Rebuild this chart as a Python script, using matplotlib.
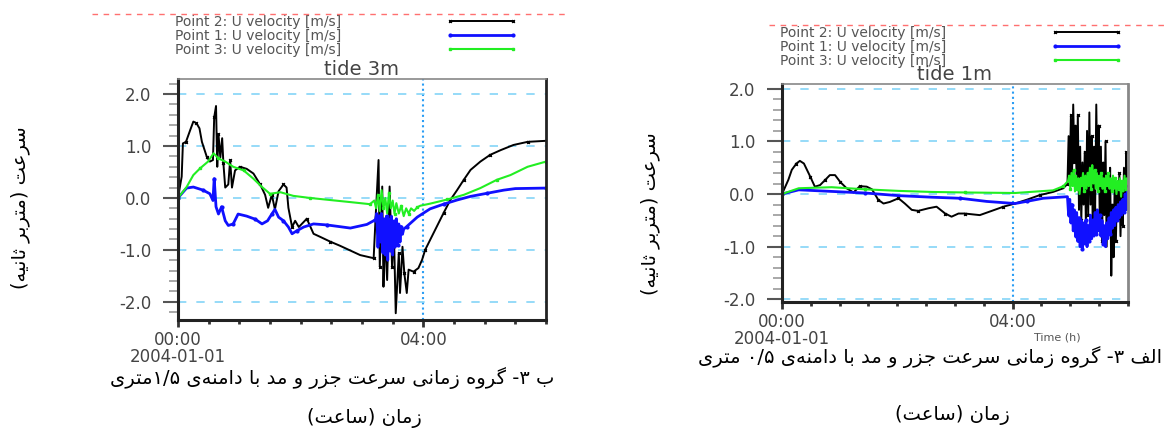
import re
import matplotlib
matplotlib.use('Agg')
import matplotlib.pyplot as plt
from matplotlib.lines import Line2D
from matplotlib.ticker import MultipleLocator, FixedLocator, FormatStrFormatter

plt.rcParams['axes.unicode_minus'] = False

# ------------ Data: tide 3m (left panel) ---------------
T3_P2 = [0, 0.06, 0.08, 0.13, 0.2, 0.25, 0.3, 0.35, 0.39, 0.47,
         0.52, 0.57, 0.59, 0.62, 0.64, 0.66, 0.69, 0.72, 0.74, 0.77,
         0.82, 0.85, 0.88, 0.93, 1.01, 1.12, 1.23, 1.34, 1.42, 1.47,
         1.53, 1.58, 1.64, 1.72, 1.77, 1.80, 1.86, 1.91, 1.97, 2.10,
         2.21, 2.32, 2.48, 2.64, 2.97, 3.19, 3.22, 3.27, 3.29, 3.33,
         3.35, 3.37, 3.41, 3.45, 3.49, 3.52, 3.55, 3.60, 3.62, 3.66,
         3.69, 3.73, 3.76, 3.84, 3.92, 3.98, 4.03, 4.11, 4.22, 4.33,
         4.44, 4.55, 4.66, 4.77, 4.93, 5.09, 5.26, 5.47, 5.7, 6.0]
U3_P2 = [0, 0.41, 1.05, 1.08, 1.31, 1.47, 1.44, 1.34, 1.08, 0.79,
         0.70, 0.73, 1.55, 1.77, 0.6, 1.23, 0.78, 1.15, 0.67, 0.2,
         0.26, 0.73, 0.2, 0.53, 0.6, 0.56, 0.47, 0.26, 0.06, -0.19,
         0.06, -0.22, 0.13, 0.26, 0.2, -0.19, -0.56, -0.44, -0.56, -0.4,
         -0.69, -0.75, -0.84, -0.92, -1.10, -1.16, -0.42, 0.73, -1.32, 0.22,
         -1.71, -0.74, -1.58, 0.22, -1.32, -0.63, -2.22, -1.06, -1.83, -0.94,
         -1.45, -1.83, -1.38, -1.42, -1.35, -1.19, -1.0, -0.81, -0.55, -0.29,
         -0.04, 0.15, 0.35, 0.54, 0.70, 0.83, 0.92, 1.02, 1.08, 1.10]

T3_P1 = [0, 0.14, 0.25, 0.41, 0.52, 0.57, 0.59, 0.62, 0.66, 0.71,
         0.77, 0.82, 0.90, 0.98, 1.12, 1.26, 1.37, 1.46, 1.53, 1.58,
         1.64, 1.72, 1.80, 1.86, 1.94, 2.05, 2.21, 2.43, 2.81, 3.08,
         3.22, 3.24, 3.26, 3.28, 3.30, 3.32, 3.34, 3.36, 3.38, 3.40,
         3.42, 3.44, 3.46, 3.48, 3.50, 3.52, 3.54, 3.56, 3.58, 3.60,
         3.62, 3.64, 3.66, 3.68, 3.73, 3.90, 4.11, 4.33, 4.55, 4.77,
         5.04, 5.31, 5.5, 6.0]
U3_P1 = [0, 0.19, 0.21, 0.15, 0.08, -0.05, 0.37, -0.17, -0.31, -0.17,
         -0.44, -0.53, -0.5, -0.31, -0.35, -0.41, -0.5, -0.44, -0.31, -0.22,
         -0.37, -0.44, -0.56, -0.69, -0.63, -0.56, -0.5, -0.52, -0.58, -0.51,
         -0.42, -0.3, -0.95, -0.35, -0.85, -0.3, -1.05, -0.4, -1.1, -0.35,
         -1.2, -0.4, -1.0, -0.35, -1.1, -0.45, -0.95, -0.4, -0.9, -0.5,
         -0.85, -0.55, -0.7, -0.6, -0.55, -0.37, -0.21, -0.12, -0.04, 0.03,
         0.09, 0.15, 0.18, 0.19]

T3_P3 = [0, 0.14, 0.25, 0.36, 0.49, 0.58, 0.66, 0.77, 0.90, 1.07,
         1.23, 1.37, 1.5, 1.67, 1.88, 2.15, 2.48, 2.81, 3.13, 3.2,
         3.23, 3.26, 3.29, 3.32, 3.35, 3.38, 3.41, 3.44, 3.47, 3.50,
         3.53, 3.56, 3.60, 3.64, 3.68, 3.72, 3.76, 3.80, 3.85, 3.9,
         3.95, 4.11, 4.39, 4.66, 4.93, 5.2, 5.42, 5.7, 6.0]
U3_P3 = [0, 0.21, 0.44, 0.57, 0.70, 0.86, 0.76, 0.70, 0.60, 0.53,
         0.37, 0.21, 0.08, 0.11, 0.04, 0.0, -0.04, -0.08, -0.12, -0.05,
         -0.2, 0.05, -0.25, 0.15, -0.2, 0.0, -0.3, 0.1, -0.2, -0.05,
         -0.3, -0.1, -0.3, -0.15, -0.35, -0.2, -0.3, -0.2, -0.25, -0.18,
         -0.15, -0.11, -0.03, 0.06, 0.19, 0.35, 0.44, 0.6, 0.7]

# ------------ Data: tide 1m (right panel) ---------------
T1_P2 = [0, 0.11, 0.17, 0.25, 0.31, 0.38, 0.49, 0.57, 0.66, 0.75,
         0.83, 0.92, 1.01, 1.12, 1.24, 1.35, 1.47, 1.56, 1.67, 1.76,
         1.87, 2.02, 2.13, 2.25, 2.36, 2.54, 2.68, 2.83, 2.94, 3.06,
         3.17, 3.43, 3.61, 3.84, 4.04, 4.24, 4.47, 4.70, 4.88,
         4.95, 4.97, 4.99, 5.01, 5.03, 5.05, 5.07, 5.09, 5.11, 5.13,
         5.15, 5.17, 5.19, 5.21, 5.23, 5.25, 5.27, 5.29, 5.31, 5.33,
         5.35, 5.37, 5.39, 5.41, 5.43, 5.45, 5.47, 5.49, 5.51, 5.53,
         5.55, 5.57, 5.59, 5.61, 5.63, 5.65, 5.67, 5.69, 5.71, 5.73,
         5.75, 5.77, 5.79, 5.81, 5.83, 5.85, 5.87, 5.89, 5.91, 5.93,
         5.95, 5.97, 5.99]
U1_P2 = [0, 0.27, 0.46, 0.58, 0.63, 0.58, 0.33, 0.14, 0.17, 0.27,
         0.36, 0.36, 0.23, 0.11, 0.03, 0.15, 0.14, 0.09, -0.11, -0.18,
         -0.15, -0.08, -0.18, -0.30, -0.32, -0.27, -0.24, -0.37, -0.43, -0.37,
         -0.37, -0.40, -0.33, -0.24, -0.18, -0.11, -0.02, 0.04, 0.11,
         0.2, 1.1, 0.3, 1.5, 0.4, 1.7, 0.6, 1.3, 0.2, 1.5,
         -0.3, 0.9, -0.5, 0.6, -0.2, 0.8, -0.6, 1.2, -0.4, 1.55,
         -0.2, 1.1, -0.8, 0.9, -0.3, 1.7, 0.2, 1.3, -0.5, 0.9,
         -0.9, 0.6, -0.4, 1.0, -1.0, 0.4, -0.7, 0.5, -1.55, -0.2,
         -1.2, 0.3, -0.9, 0.2, -0.5, 0.4, -0.8, 0.1, -0.6, 0.5,
         -0.3, 0.8, 0.1]

T1_P1 = [0, 0.29, 0.86, 1.44, 2.02, 2.6, 3.09, 3.55, 4.04, 4.24, 4.53,
         4.95, 4.97, 4.99, 5.01, 5.03, 5.05, 5.07, 5.09, 5.11, 5.13,
         5.15, 5.17, 5.19, 5.21, 5.23, 5.25, 5.27, 5.29, 5.31, 5.33,
         5.35, 5.37, 5.39, 5.41, 5.43, 5.45, 5.47, 5.49, 5.51, 5.53,
         5.55, 5.57, 5.59, 5.61, 5.63, 5.65, 5.67, 5.69, 5.71, 5.73,
         5.75, 5.77, 5.79, 5.81, 5.83, 5.85, 5.87, 5.89, 5.91, 5.93,
         5.95, 5.97, 5.99]
U1_P1 = [0, 0.08, 0.05, 0.02, -0.03, -0.06, -0.08, -0.14, -0.18, -0.14, -0.08,
         -0.05, -0.4, -0.1, -0.55, -0.2, -0.7, -0.3, -0.8, -0.35, -0.9,
         -0.45, -1.0, -0.5, -1.05, -0.55, -0.95, -0.5, -1.0, -0.6, -0.9,
         -0.4, -0.85, -0.5, -0.8, -0.35, -0.75, -0.3, -0.7, -0.4, -0.8,
         -0.5, -0.95, -0.6, -1.0, -0.55, -0.85, -0.45, -0.75, -0.35, -0.65,
         -0.3, -0.6, -0.25, -0.5, -0.2, -0.45, -0.15, -0.4, -0.1, -0.35,
         0.0, -0.3, 0.1]

T1_P3 = [0, 0.29, 0.86, 1.44, 2.02, 2.6, 3.17, 4.04, 4.7, 4.88, 4.96,
         4.98, 5.00, 5.02, 5.04, 5.06, 5.08, 5.10, 5.12, 5.14, 5.16,
         5.18, 5.20, 5.22, 5.24, 5.26, 5.28, 5.30, 5.32, 5.34, 5.36,
         5.38, 5.40, 5.42, 5.44, 5.46, 5.48, 5.50, 5.52, 5.54, 5.56,
         5.58, 5.60, 5.62, 5.64, 5.66, 5.68, 5.70, 5.72, 5.74, 5.76,
         5.78, 5.80, 5.82, 5.84, 5.86, 5.88, 5.90, 5.92, 5.94, 5.96,
         5.98, 6.0]
U1_P3 = [0, 0.11, 0.13, 0.09, 0.06, 0.04, 0.03, 0.02, 0.07, 0.15, 0.25,
         0.35, 0.1, 0.4, 0.15, 0.45, 0.05, 0.35, 0.1, 0.3, 0.0,
         0.3, 0.15, 0.4, 0.05, 0.35, 0.1, 0.4, 0.15, 0.5, 0.1,
         0.55, 0.2, 0.45, 0.1, 0.4, 0.05, 0.35, 0.15, 0.4, 0.1,
         0.3, 0.05, 0.35, 0.15, 0.4, 0.1, 0.3, 0.05, 0.35, 0.1,
         0.3, 0.0, 0.25, 0.1, 0.3, -0.05, 0.25, 0.05, 0.35, 0.1,
         0.3, 0.2]

SERIES_LABELS = ['Point 2: U velocity [m/s]', 'Point 1: U velocity [m/s]',
                 'Point 3: U velocity [m/s]']
XTICK_LABELS = ['00:00\n2004-01-01', '04:00']

# Persian texts (logical order)
YLABEL_FA = 'سرعت (متربر ثانیه)'
XLABEL_FA = 'زمان (ساعت)'
CAPTION_3M = 'ب ۳- گروه زمانی سرعت جزر و مد با دامنه\u200cی ۱/۵متری'
CAPTION_1M = 'الف ۳- گروه زمانی سرعت جزر و مد با دامنه\u200cی ۰/۵ متری'

# ------------ Persian shaping (matplotlib has no text layout engine) -------
# isolated, final, initial, medial
FORMS = {
    'ا': ('\ufe8d', '\ufe8e', None, None),
    'ب': ('\ufe8f', '\ufe90', '\ufe91', '\ufe92'),
    'ت': ('\ufe95', '\ufe96', '\ufe97', '\ufe98'),
    'ث': ('\ufe99', '\ufe9a', '\ufe9b', '\ufe9c'),
    'ج': ('\ufe9d', '\ufe9e', '\ufe9f', '\ufea0'),
    'د': ('\ufea9', '\ufeaa', None, None),
    'ر': ('\ufead', '\ufeae', None, None),
    'ز': ('\ufeaf', '\ufeb0', None, None),
    'س': ('\ufeb1', '\ufeb2', '\ufeb3', '\ufeb4'),
    'ع': ('\ufec9', '\ufeca', '\ufecb', '\ufecc'),
    'ف': ('\ufed1', '\ufed2', '\ufed3', '\ufed4'),
    'ل': ('\ufedd', '\ufede', '\ufedf', '\ufee0'),
    'م': ('\ufee1', '\ufee2', '\ufee3', '\ufee4'),
    'ن': ('\ufee5', '\ufee6', '\ufee7', '\ufee8'),
    'ه': ('\ufee9', '\ufeea', '\ufeeb', '\ufeec'),
    'و': ('\ufeed', '\ufeee', None, None),
    'ی': ('\ufbfc', '\ufbfd', '\ufbfe', '\ufbff'),
    'گ': ('\ufb92', '\ufb93', '\ufb94', '\ufb95'),
}


def fa(s):
    out = []
    for i, c in enumerate(s):
        if c not in FORMS:
            out.append(c)
            continue
        prev = s[i - 1] if i > 0 else ''
        nxt = s[i + 1] if i + 1 < len(s) else ''
        jp = prev in FORMS and FORMS[prev][2] is not None
        jn = FORMS[c][2] is not None and nxt in FORMS
        iso, fin, ini, med = FORMS[c]
        out.append(med if (jp and jn) else fin if jp else ini if jn else iso)
    vis = ''.join(out).replace('\u200c', '')[::-1]
    vis = re.sub(r'[0-9۰-۹][0-9۰-۹/.]*', lambda m: m.group()[::-1], vis)
    return vis.translate(str.maketrans('()', ')('))


# ------------ Figure ---------------
W, H = 1164, 432
fig = plt.figure(figsize=(W / 100, H / 100), dpi=100)


def box(l, t, r, b):
    return [l / W, 1 - b / H, (r - l) / W, (b - t) / H]


def setup(ax, ylim, title):
    ax.set_xlim(0, 6)
    ax.set_ylim(*ylim)
    ax.yaxis.set_major_locator(FixedLocator([-2, -1, 0, 1, 2]))
    ax.yaxis.set_minor_locator(MultipleLocator(0.2))
    ax.yaxis.set_major_formatter(FormatStrFormatter('%.1f'))
    ax.xaxis.set_major_locator(FixedLocator([0, 4]))
    ax.xaxis.set_minor_locator(MultipleLocator(0.5))
    ax.set_xticklabels(XTICK_LABELS, linespacing=0.9)
    ax.grid(axis='y', color='#84d4f7', linestyle=(0, (5, 6)), lw=1.2)
    ax.axvline(4, color='#2a9df4', linestyle=(0, (1, 1.5)), lw=1.5, zorder=1)
    for side in ('left', 'bottom'):
        ax.spines[side].set_linewidth(2.2)
        ax.spines[side].set_color('#222222')
    ax.spines['top'].set_linewidth(1.2)
    ax.spines['top'].set_color('#888888')
    ax.spines['right'].set_linewidth(2.0)
    ax.tick_params(axis='y', which='major', direction='out', length=11, width=1.5,
                   color='#555555', pad=8, labelsize=12, labelcolor='#444444')
    ax.tick_params(axis='y', which='minor', direction='out', length=6.5, width=1.2,
                   color='#999999')
    ax.tick_params(axis='x', which='major', direction='out', length=5, width=2,
                   color='#333333', pad=3, labelsize=12, labelcolor='#444444')
    ax.tick_params(axis='x', which='minor', direction='out', length=3, width=2,
                   color='#333333')
    ax.set_title(title, fontsize=14, color='#444444', pad=1)


def draw(ax, t2, u2, t1, u1, t3, u3):
    h2, = ax.plot(t2, u2, color='black', lw=1.4, marker='x', ms=2, markevery=3)
    h1, = ax.plot(t1, u1, color='#1010ff', lw=2.0, marker='o', ms=2, markevery=3)
    h3, = ax.plot(t3, u3, color='#22ee22', lw=1.5, marker='s', ms=1.8, markevery=3)
    return [h2, h1, h3]


def legend(ax, handles, x, y):
    leg = ax.legend(handles, SERIES_LABELS, loc='upper left',
                    bbox_to_anchor=(x / W, 1 - y / H), bbox_transform=fig.transFigure,
                    frameon=False, markerfirst=False, numpoints=2, fontsize=10,
                    handlelength=5.2, handletextpad=7.5, labelspacing=0.0,
                    borderpad=0, borderaxespad=0)
    plt.setp(leg.get_texts(), color='#555555')


# left panel: tide 3m
ax3 = fig.add_axes(box(178, 79, 546, 320))
setup(ax3, (-2.35, 2.29), 'tide 3m')
ax3.spines['right'].set_color('#222222')
hs = draw(ax3, T3_P2, U3_P2, T3_P1, U3_P1, T3_P3, U3_P3)
legend(ax3, hs, 175, 15)

# right panel: tide 1m
ax1 = fig.add_axes(box(782, 84, 1128, 302))
setup(ax1, (-2.05, 2.09), 'tide 1m')
ax1.spines['right'].set_color('#888888')
hs = draw(ax1, T1_P2, U1_P2, T1_P1, U1_P1, T1_P3, U1_P3)
legend(ax1, hs, 780, 26)

# red dashed line at the top
fig.add_artist(Line2D([92 / W, 568 / W], [1 - 14 / H] * 2, color='#ff7070',
                      ls=(0, (4, 4)), lw=1))
fig.add_artist(Line2D([769 / W, 1.0], [1 - 25 / H] * 2, color='#ff7070',
                      ls=(0, (4, 4)), lw=1))

# ------------ Persian labels and captions ---------------
fa_kw = dict(family=['DejaVu Sans'], color='black', ha='center', va='center')
fig.text(20 / W, 1 - 208 / H, fa(YLABEL_FA), rotation=90, fontsize=14, **fa_kw)
fig.text(650 / W, 1 - 214 / H, fa(YLABEL_FA), rotation=90, fontsize=14, **fa_kw)

fig.text(1057 / W, 1 - 338 / H, 'Time (h)', ha='center', va='center',
         fontsize=8, color='#555555')
fig.text(332 / W, 1 - 378 / H, fa(CAPTION_3M), fontsize=14, **fa_kw)
fig.text(930 / W, 1 - 357 / H, fa(CAPTION_1M), fontsize=14, **fa_kw)

fig.text(364 / W, 1 - 418 / H, fa(XLABEL_FA), fontsize=14, **fa_kw)
fig.text(952 / W, 1 - 415 / H, fa(XLABEL_FA), fontsize=14, **fa_kw)

fig.savefig('out.png', dpi=100)
